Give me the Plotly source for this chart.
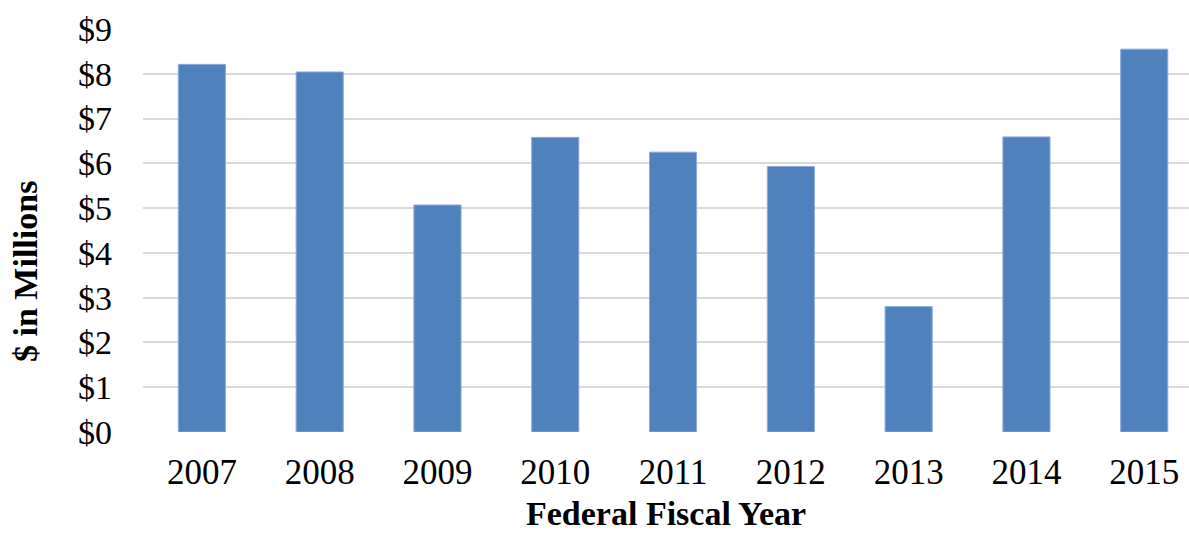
import plotly.graph_objects as go

years = ["2007", "2008", "2009", "2010", "2011", "2012", "2013", "2014", "2015"]
values = [8.21, 8.04, 5.07, 6.58, 6.25, 5.93, 2.80, 6.59, 8.55]
y_ticks = [0, 1, 2, 3, 4, 5, 6, 7, 8, 9]
y_tick_labels = ["$" + str(v) for v in y_ticks]

fig = go.Figure(go.Bar(
    x=list(range(len(years))), y=values,
    marker=dict(color="#4F81BD", line=dict(color="#8EAADB", width=1)),
    width=0.4,
))

font_family = "Liberation Serif, Times New Roman, serif"
fig.update_layout(
    width=1189, height=534,
    margin=dict(l=143, r=0, t=29, b=102),
    plot_bgcolor="white", paper_bgcolor="white",
    showlegend=False,
    font=dict(family=font_family, color="black", size=34),
    xaxis=dict(
        range=[-0.5, 8.38],
        tickvals=list(range(len(years))), ticktext=years,
        showgrid=False, zeroline=False, showline=False,
        ticks="", ticklabelstandoff=16,
        tickfont=dict(size=35, family=font_family),
    ),
    yaxis=dict(
        range=[0, 9], tickvals=y_ticks, ticktext=y_tick_labels,
        showgrid=True, gridcolor="#D9D9D9", gridwidth=2,
        zeroline=False, showline=False, ticks="", ticklabelstandoff=30,
        tickfont=dict(size=34, family=font_family),
    ),
    annotations=[
        dict(text="<b>Federal Fiscal Year</b>", x=0.5, xref="paper",
             y=-(533 - 432) / 403, yref="paper", yanchor="bottom",
             borderpad=0,
             showarrow=False, font=dict(size=34, family=font_family)),
        dict(text="<b>$ in Millions</b>", textangle=-90,
             x=-(143 - 25) / 1046, xref="paper", xanchor="center",
             y=(432 - 272) / 403, yref="paper", yanchor="middle",
             showarrow=False, font=dict(size=34, family=font_family)),
    ],
)

fig.write_html("out.html")
